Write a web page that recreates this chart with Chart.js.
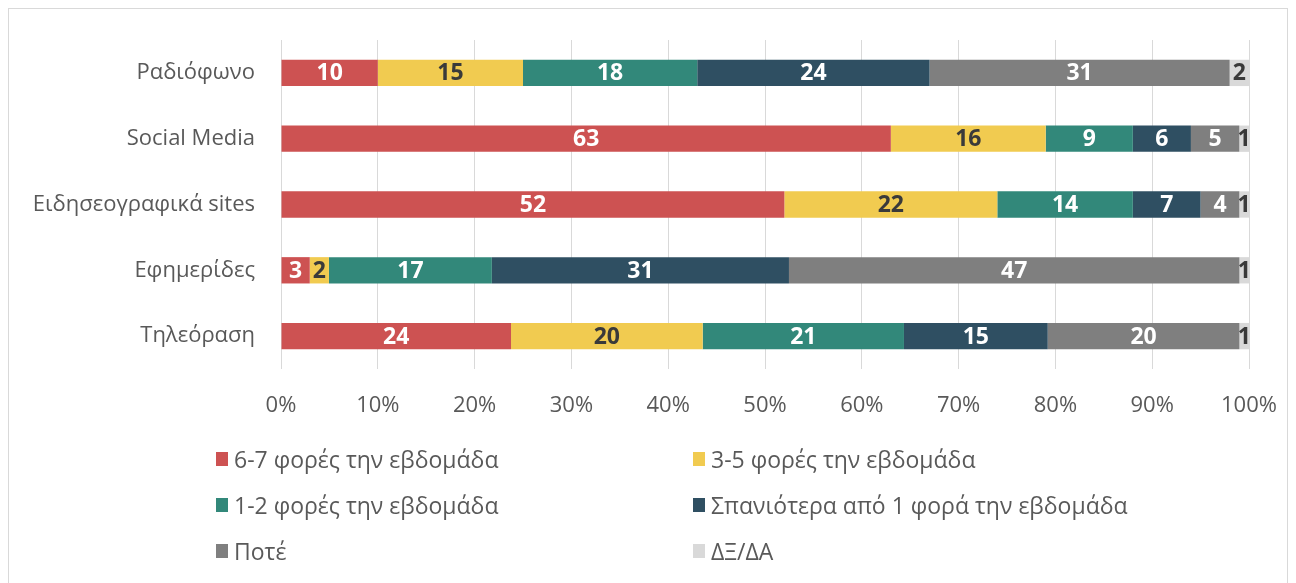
<!DOCTYPE html>
<html>
<head>
<meta charset="utf-8">
<script src="https://cdn.jsdelivr.net/npm/chart.js@4.4.1/dist/chart.umd.min.js"></script>
<style>
  html, body { margin: 0; padding: 0; background: #fff; }
  #wrap { position: relative; width: 1296px; height: 583px; overflow: hidden; }
  #frame { position: absolute; left: 8px; top: 8px; width: 1278px; height: 600px; border: 1px solid #d9d9d9; }
  #chart { position: absolute; left: 0; top: 0; }
  #legend { position: absolute; left: 216px; top: 444px; font-family: "Open Sans", "Noto Sans", sans-serif; font-size: 23px; color: #595959; }
  .item { position: absolute; white-space: nowrap; display: flex; align-items: center; height: 30px; line-height: 30px; }
  .item span.box { display: inline-block; width: 12px; height: 14px; margin-right: 6px; }
</style>
</head>
<body>
<div id="wrap">
  <div id="frame"></div>
  <canvas id="chart" width="1296" height="583"></canvas>
  <div id="legend"></div>
</div>
<script>
const categories = ['Ραδιόφωνο', 'Social Media', 'Ειδησεογραφικά sites', 'Εφημερίδες', 'Τηλεόραση'];
const seriesNames = ['6-7 φορές την εβδομάδα', '3-5 φορές την εβδομάδα', '1-2 φορές την εβδομάδα', 'Σπανιότερα από 1 φορά την εβδομάδα', 'Ποτέ', 'ΔΞ/ΔΑ'];
const daily = [10, 63, 52, 3, 24];
const threeToFive = [15, 16, 22, 2, 20];
const oneToTwo = [18, 9, 14, 17, 21];
const rarely = [24, 6, 7, 31, 15];
const never = [31, 5, 4, 47, 20];
const dkna = [2, 1, 1, 1, 1];
const xTicks = ['0%', '10%', '20%', '30%', '40%', '50%', '60%', '70%', '80%', '90%', '100%'];

const colors = ['#CD5252', '#F1CB50', '#32887A', '#2F4F62', '#7F7F7F', '#D9D9D9'];
const labelColors = ['#fff', '#3a3a3a', '#fff', '#fff', '#fff', '#3a3a3a'];
const seriesValues = [daily, threeToFive, oneToTwo, rarely, never, dkna];

// 100% stacked, like the original
const totals = categories.map((c, i) => seriesValues.reduce((s, arr) => s + arr[i], 0));

const datasets = seriesValues.map((vals, k) => ({
  label: seriesNames[k],
  data: vals.map((v, i) => v / totals[i] * 100),
  raw: vals,
  backgroundColor: colors[k],
  borderWidth: 0,
  barPercentage: 0.8,
  categoryPercentage: 0.5,
}));

const valueLabels = {
  id: 'valueLabels',
  afterDatasetsDraw(chart) {
    const ctx = chart.ctx;
    ctx.save();
    ctx.font = 'bold 23px "Open Sans", sans-serif';
    ctx.textAlign = 'center';
    ctx.textBaseline = 'middle';
    chart.data.datasets.forEach((ds, k) => {
      const meta = chart.getDatasetMeta(k);
      meta.data.forEach((bar, i) => {
        const x = (bar.x + bar.base) / 2;
        ctx.fillStyle = labelColors[k];
        ctx.fillText(String(ds.raw[i]), x, bar.y + 1);
      });
    });
    ctx.restore();
  }
};

new Chart(document.getElementById('chart'), {
  type: 'bar',
  data: { labels: categories, datasets },
  options: {
    indexAxis: 'y',
    responsive: false,
    animation: false,
    layout: { padding: { top: 40, right: 47, bottom: 164, left: 0 } },
    plugins: { legend: { display: false }, tooltip: { enabled: false } },
    scales: {
      x: {
        stacked: true,
        min: 0,
        max: 100,
        ticks: {
          stepSize: 10,
          padding: 24,
          color: '#595959',
          font: { family: '"Open Sans", sans-serif', size: 22 },
          callback: (v, i) => xTicks[i],
        },
        grid: { color: '#d9d9d9', lineWidth: 1, tickLength: 0 },
        border: { display: false },
        afterFit: s => { s.height = 50; s.paddingRight = 0; s.paddingLeft = 0; },
      },
      y: {
        stacked: true,
        ticks: {
          padding: 26,
          color: '#595959',
          font: { family: '"Open Sans", sans-serif', size: 22 },
        },
        grid: { display: false, tickLength: 0 },
        border: { display: false },
        afterFit: s => { s.width = 281; },
      },
    },
  },
  plugins: [valueLabels],
});

// legend in two columns
const legend = document.getElementById('legend');
seriesNames.forEach((name, k) => {
  const el = document.createElement('div');
  el.className = 'item';
  el.style.left = (k % 2 === 0 ? 0 : 477) + 'px';
  el.style.top = (Math.floor(k / 2) * 46) + 'px';
  el.innerHTML = `<span class="box" style="background:${colors[k]}"></span>${name}`;
  legend.appendChild(el);
});
</script>
</body>
</html>
